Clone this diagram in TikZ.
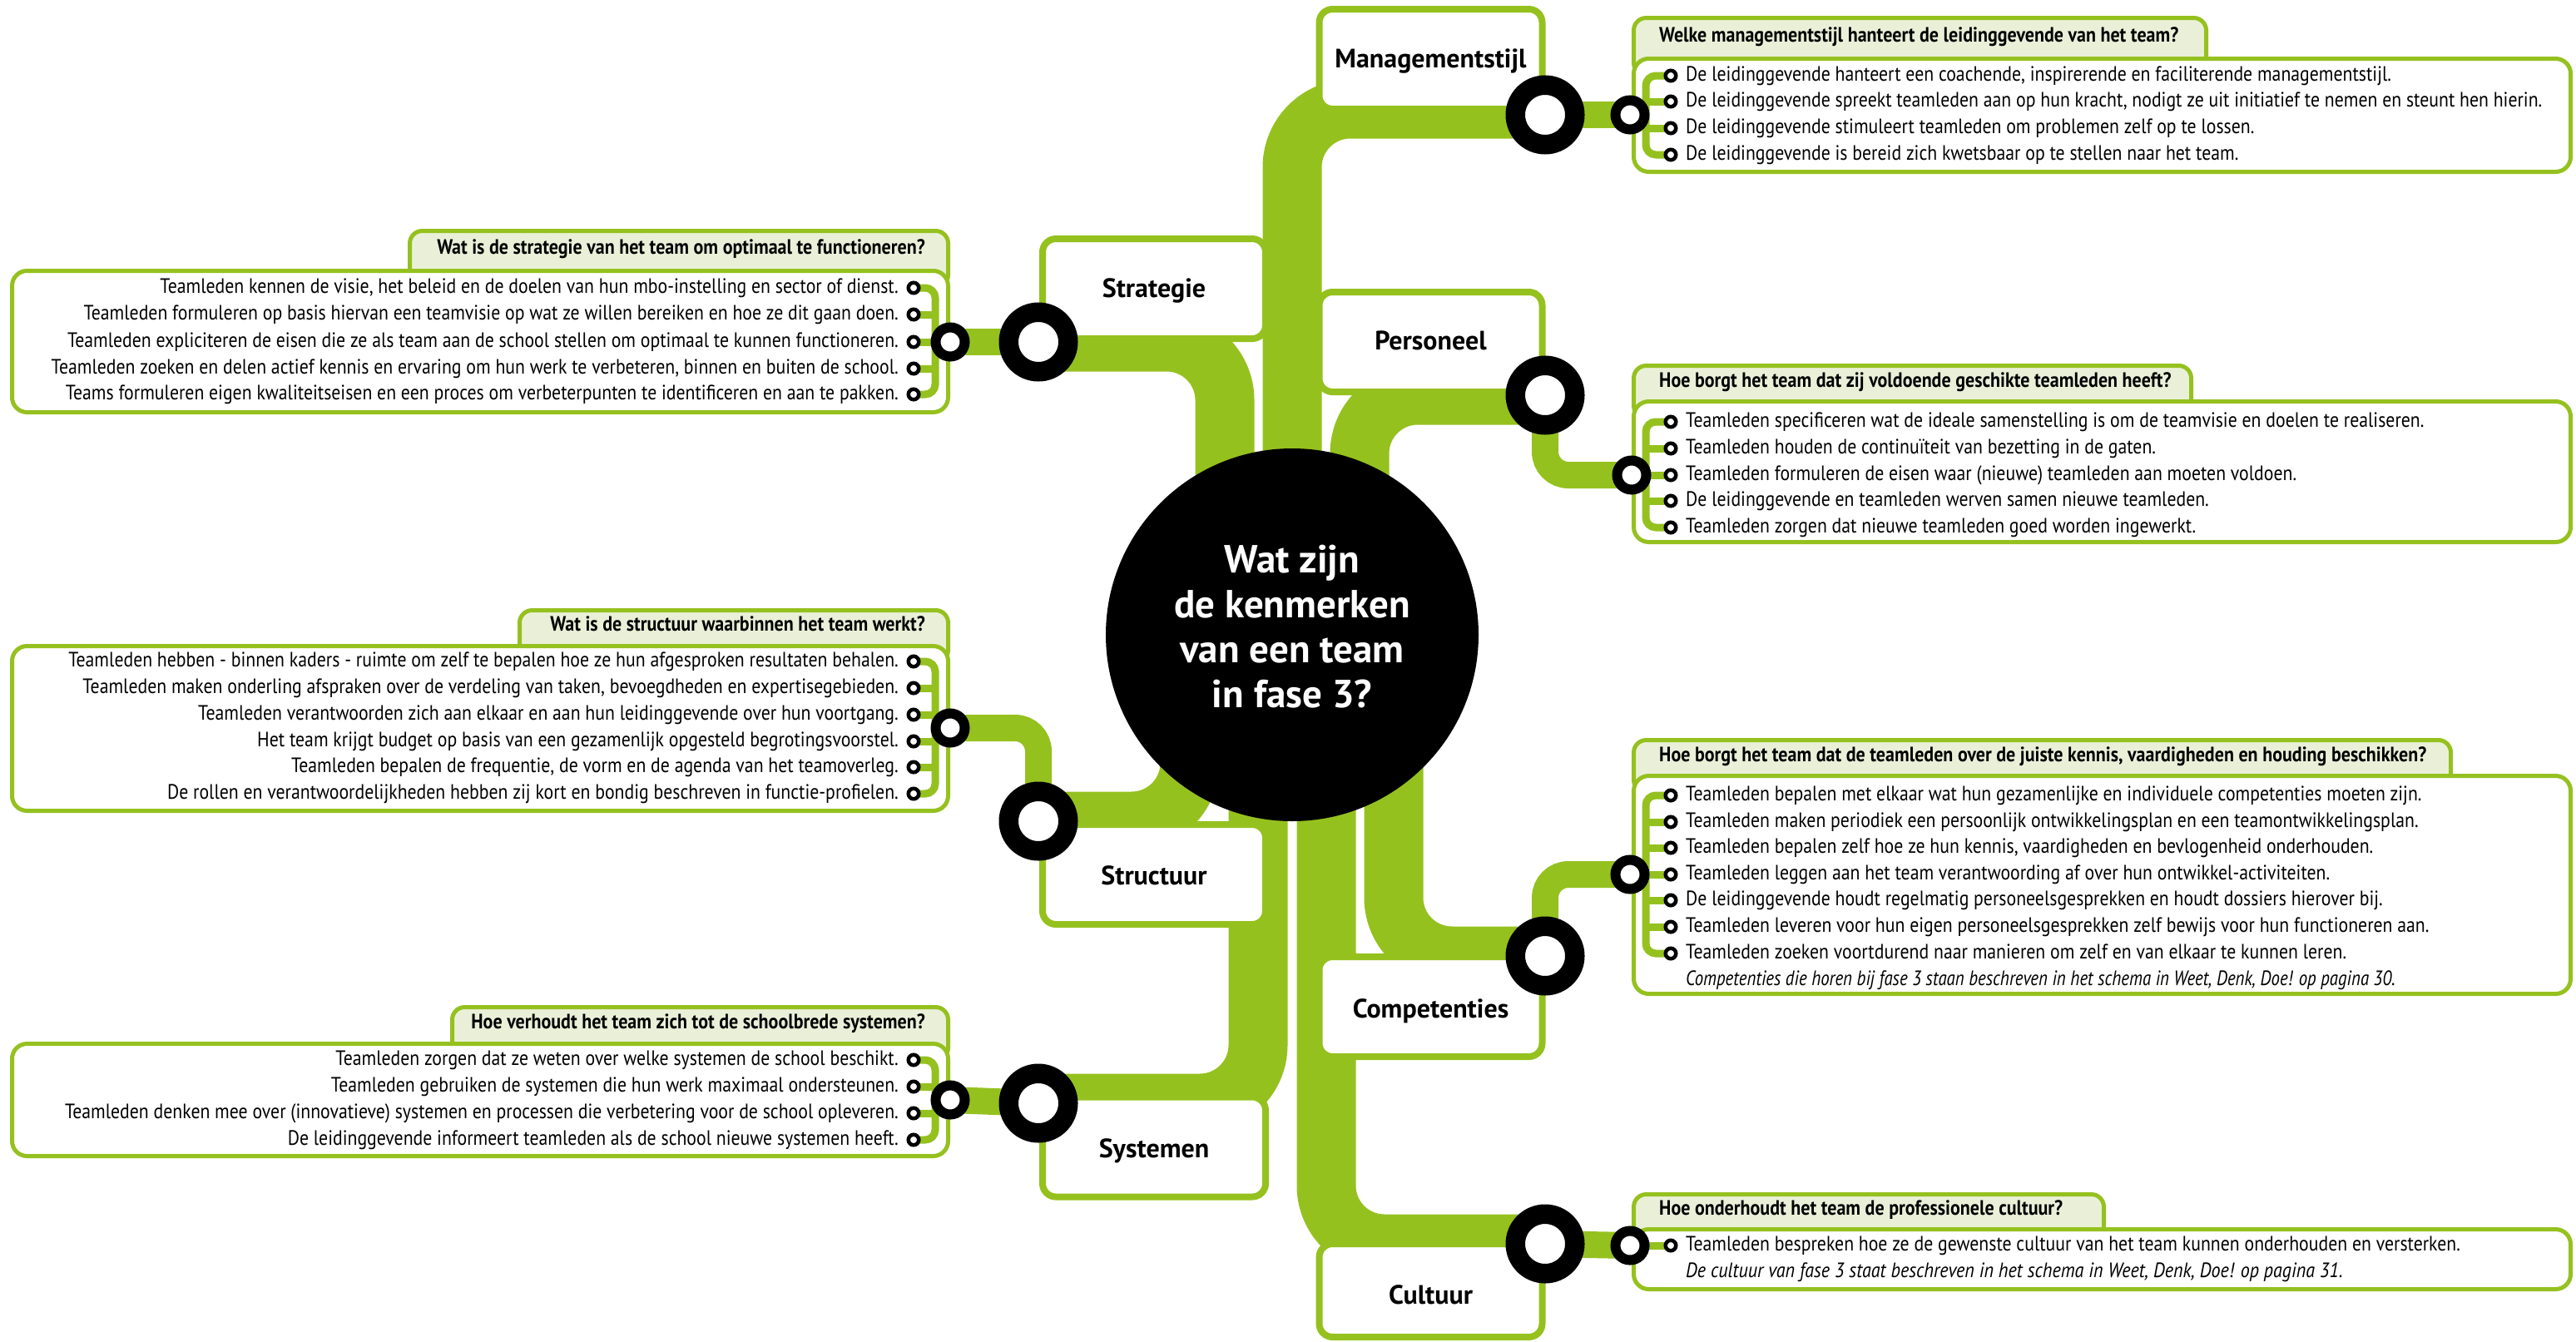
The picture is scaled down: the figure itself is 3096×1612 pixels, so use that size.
\documentclass[tikz,border=0pt]{standalone}
\usepackage{fontspec}
\setmainfont{PT Sans}
\newfontfamily\condfont{PT Sans}[FakeStretch=0.87]
\newfontfamily\notefont{PT Sans}[FakeStretch=0.835]
\newfontfamily\widenotefont{PT Sans}[FakeStretch=0.885]
\newfontfamily\headfont{PT Sans}[FakeStretch=0.88]
\newfontfamily\labelfont{PT Sans}
\newfontfamily\hubfont{PT Sans}

\definecolor{tgreen}{RGB}{149,193,31}
\definecolor{hgreen}{RGB}{234,240,216}

\pgfdeclarelayer{tracks}
\pgfdeclarelayer{hublayer}
\pgfdeclarelayer{boxes}
\pgfdeclarelayer{links}
\pgfsetlayers{tracks,hublayer,boxes,links,main}

\tikzset{
  track/.style={draw=tgreen, line width=71pt, rounded corners=70pt},
  link/.style={draw=tgreen, line width=32pt, rounded corners=28pt},
  comb/.style={draw=tgreen, line width=9pt, rounded corners=12pt},
  branchbox/.style={draw=tgreen, fill=white, line width=8pt, rounded corners=16pt,
    minimum width=268pt, minimum height=120pt, inner sep=0pt, text depth=7pt,
    font=\labelfont\bfseries\fontsize{32}{38}\selectfont},
  qmain/.style={draw=tgreen, fill=white, line width=5pt, rounded corners=18pt, inner sep=0pt},
  qhead/.style={draw=tgreen, fill=hgreen, line width=5pt, rounded corners=15pt, inner sep=0pt},
  bigring/.style={circle, draw=black, fill=white, line width=23.5pt, minimum size=71.5pt, inner sep=0pt},
  smallring/.style={circle, draw=black, fill=white, line width=12pt, minimum size=35pt, inner sep=0pt},
  bul/.style={circle, draw=black, fill=white, line width=4.5pt, minimum size=12.5pt, inner sep=0pt},
  itemtext/.style={inner sep=0pt, font=\condfont\fontsize{25}{30}\selectfont, text height=18pt, text depth=6pt},
  itemR/.style={itemtext, anchor=west},
  itemL/.style={itemtext, anchor=east},
  noteR/.style={itemR, font=\notefont\itshape\fontsize{25}{30}\selectfont},
  headtext/.style={inner sep=0pt, font=\headfont\bfseries\fontsize{25}{30}\selectfont, text height=18pt, text depth=6pt},
  headR/.style={headtext, anchor=west},
  headL/.style={headtext, anchor=east},
}

\begin{document}
\begin{tikzpicture}[x=1pt,y=-1pt]
\useasboundingbox (0,0) rectangle (3096,1612);

% ---------- stations on the branches ----------
\node[bigring] (sMan) at (1857,138) {};
\node[bigring] (sStr) at (1248,411) {};
\node[bigring] (sPer) at (1857,475) {};
\node[bigring] (sStc) at (1248,987) {};
\node[bigring] (sCom) at (1857,1149) {};
\node[bigring] (sSys) at (1248,1326) {};
\node[bigring] (sCul) at (1857,1495) {};

% ---------- small rings on the question boxes ----------
\node[smallring] (rMan) at (1959,138) {};
\node[smallring] (rStr) at (1142,411) {};
\node[smallring] (rPer) at (1961,571) {};
\node[smallring] (rStc) at (1142,875) {};
\node[smallring] (rCom) at (1959,1051) {};
\node[smallring] (rSys) at (1142,1322) {};
\node[smallring] (rCul) at (1959,1497) {};

% ---------- central question ----------
\begin{pgfonlayer}{hublayer}
\node[circle, fill=black, minimum size=448pt, inner sep=0pt] (hub) at (1553,763) {};
\node[text=white, align=center, inner sep=0pt,
      font=\hubfont\bfseries\fontsize{47}{54}\selectfont] (hubtext) at (1553,753)
      {Wat zijn\\de kenmerken\\van een team\\in fase 3?};
\end{pgfonlayer}

% track ends inside the central circle
\coordinate (jMan) at (1553,763);
\coordinate (jStr) at (1472,763);
\coordinate (jPer) at (1634,763);
\coordinate (jStc) at (1430,763);
\coordinate (jCom) at (1675,763);
\coordinate (jSys) at (1512,763);
\coordinate (jCul) at (1594,763);

\begin{pgfonlayer}{tracks}
\draw[track] ([yshift=7pt]sMan.center) -| (jMan);
\draw[track] (sStr.center) -| (jStr);
\draw[track] (sPer.center) -| (jPer);
\draw[track] (sStc.center) -| (jStc);
\draw[track] (sCom.center) -| (jCom);
\draw[track] (sSys.center) -| (jSys);
\draw[track] (sCul.center) -| (jCul);
\end{pgfonlayer}

% ---------- branch boxes and question boxes ----------
\begin{pgfonlayer}{boxes}
\node[branchbox, text height=27pt] (bxMan) at (1719.5,71) {Managementstijl};
\node[branchbox, text height=27pt] (bxStr) at (1387,347) {Strategie};
\node[branchbox, text height=25pt] (bxPer) at (1719.5,411) {Personeel};
\node[branchbox, text height=31pt] (bxStc) at (1387,1051) {Structuur};
\node[branchbox, text height=33pt] (bxCom) at (1719.5,1210) {Competenties};
\node[branchbox, text height=32pt] (bxSys) at (1387,1378.5) {Systemen};
\node[branchbox, text height=39pt, minimum height=112pt] (bxCul) at (1719.5,1551) {Cultuur};

\node[qhead, minimum width=688pt, minimum height=69pt] (hMan) at (2307.5,56) {};
\node[qhead, minimum width=670pt, minimum height=63pt] (hPer) at (2298.5,471) {};
\node[qhead, minimum width=982pt, minimum height=63pt] (hCom) at (2454.5,921) {};
\node[qhead, minimum width=565pt, minimum height=62pt] (hCul) at (2246,1466.5) {};
\node[qhead, minimum width=647pt, minimum height=68pt] (hStr) at (816,311.5) {};
\node[qhead, minimum width=515pt, minimum height=63pt] (hStc) at (882,765) {};
\node[qhead, minimum width=596pt, minimum height=64pt] (hSys) at (841.5,1242.5) {};

\node[qmain, minimum width=1126pt, minimum height=136pt] (qMan) at (2526.5,138.5) {};
\node[qmain, minimum width=1126pt, minimum height=169pt] (qPer) at (2526.5,567) {};
\node[qmain, minimum width=1126pt, minimum height=262pt] (qCom) at (2526.5,1063.5) {};
\node[qmain, minimum width=1126pt, minimum height=72pt] (qCul) at (2526.5,1513.5) {};
\node[qmain, minimum width=1125pt, minimum height=170pt] (qStr) at (577,410.5) {};
\node[qmain, minimum width=1125pt, minimum height=198pt] (qStc) at (577,875.5) {};
\node[qmain, minimum width=1125pt, minimum height=135pt] (qSys) at (577,1322) {};
\end{pgfonlayer}

% ---------- question headings ----------
\node[headR] (tMan) at (1994,44) {Welke managementstijl hanteert de leidinggevende van het team?};
\node[headR] (tPer) at (1994,459) {Hoe borgt het team dat zij voldoende geschikte teamleden heeft?};
\node[headR] (tCom) at (1994,909) {Hoe borgt het team dat de teamleden over de juiste kennis, vaardigheden en houding beschikken?};
\node[headR] (tCul) at (1994,1454) {Hoe onderhoudt het team de professionele cultuur?};
\node[headL] (tStr) at (1112,299) {Wat is de strategie van het team om optimaal te functioneren?};
\node[headL] (tStc) at (1112,752) {Wat is de structuur waarbinnen het team werkt?};
\node[headL] (tSys) at (1112,1230) {Hoe verhoudt het team zich tot de schoolbrede systemen?};

% ---------- Managementstijl items ----------
\node[bul] (bMan1) at (2008,91) {};
\node[bul] (bMan2) at (2008,122) {};
\node[bul] (bMan3) at (2008,154) {};
\node[bul] (bMan4) at (2008,186) {};
\node[itemR] (iMan1) at (2026,91) {De leidinggevende hanteert een coachende, inspirerende en faciliterende managementstijl.};
\node[itemR] (iMan2) at (2026,122) {De leidinggevende spreekt teamleden aan op hun kracht, nodigt ze uit initiatief te nemen en steunt hen hierin.};
\node[itemR] (iMan3) at (2026,154) {De leidinggevende stimuleert teamleden om problemen zelf op te lossen.};
\node[itemR] (iMan4) at (2026,186) {De leidinggevende is bereid zich kwetsbaar op te stellen naar het team.};

% ---------- Personeel items ----------
\node[bul] (bPer1) at (2008,507) {};
\node[bul] (bPer2) at (2008,539) {};
\node[bul] (bPer3) at (2008,571) {};
\node[bul] (bPer4) at (2008,602) {};
\node[bul] (bPer5) at (2008,634) {};
\node[itemR] (iPer1) at (2026,507) {Teamleden specificeren wat de ideale samenstelling is om de teamvisie en doelen te realiseren.};
\node[itemR] (iPer2) at (2026,539) {Teamleden houden de continuïteit van bezetting in de gaten.};
\node[itemR] (iPer3) at (2026,571) {Teamleden formuleren de eisen waar (nieuwe) teamleden aan moeten voldoen.};
\node[itemR] (iPer4) at (2026,602) {De leidinggevende en teamleden werven samen nieuwe teamleden.};
\node[itemR] (iPer5) at (2026,634) {Teamleden zorgen dat nieuwe teamleden goed worden ingewerkt.};

% ---------- Competenties items ----------
\node[bul] (bCom1) at (2008,956) {};
\node[bul] (bCom2) at (2008,988) {};
\node[bul] (bCom3) at (2008,1019) {};
\node[bul] (bCom4) at (2008,1051) {};
\node[bul] (bCom5) at (2008,1082) {};
\node[bul] (bCom6) at (2008,1114) {};
\node[bul] (bCom7) at (2008,1146) {};
\node[itemR] (iCom1) at (2026,956) {Teamleden bepalen met elkaar wat hun gezamenlijke en individuele competenties moeten zijn.};
\node[itemR] (iCom2) at (2026,988) {Teamleden maken periodiek een persoonlijk ontwikkelingsplan en een teamontwikkelingsplan.};
\node[itemR] (iCom3) at (2026,1019) {Teamleden bepalen zelf hoe ze hun kennis, vaardigheden en bevlogenheid onderhouden.};
\node[itemR] (iCom4) at (2026,1051) {Teamleden leggen aan het team verantwoording af over hun ontwikkel-activiteiten.};
\node[itemR] (iCom5) at (2026,1082) {De leidinggevende houdt regelmatig personeelsgesprekken en houdt dossiers hierover bij.};
\node[itemR] (iCom6) at (2026,1114) {Teamleden leveren voor hun eigen personeelsgesprekken zelf bewijs voor hun functioneren aan.};
\node[itemR] (iCom7) at (2026,1146) {Teamleden zoeken voortdurend naar manieren om zelf en van elkaar te kunnen leren.};
\node[noteR] (nCom) at (2026,1178) {Competenties die horen bij fase 3 staan beschreven in het schema in Weet, Denk, Doe! op pagina 30.};

% ---------- Cultuur items ----------
\node[bul] (bCul1) at (2008,1497) {};
\node[itemR] (iCul1) at (2026,1497) {Teamleden bespreken hoe ze de gewenste cultuur van het team kunnen onderhouden en versterken.};
\node[noteR, font=\widenotefont\itshape\fontsize{25}{30}\selectfont] (nCul) at (2026,1529) {De cultuur van fase 3 staat beschreven in het schema in Weet, Denk, Doe! op pagina 31.};

% ---------- Strategie items ----------
\node[bul] (bStr1) at (1098,346) {};
\node[bul] (bStr2) at (1098,378) {};
\node[bul] (bStr3) at (1098,411) {};
\node[bul] (bStr4) at (1098,443) {};
\node[bul] (bStr5) at (1098,474) {};
\node[itemL] (iStr1) at (1080,346) {Teamleden kennen de visie, het beleid en de doelen van hun mbo-instelling en sector of dienst.};
\node[itemL] (iStr2) at (1080,378) {Teamleden formuleren op basis hiervan een teamvisie op wat ze willen bereiken en hoe ze dit gaan doen.};
\node[itemL] (iStr3) at (1080,411) {Teamleden expliciteren de eisen die ze als team aan de school stellen om optimaal te kunnen functioneren.};
\node[itemL] (iStr4) at (1080,443) {Teamleden zoeken en delen actief kennis en ervaring om hun werk te verbeteren, binnen en buiten de school.};
\node[itemL] (iStr5) at (1080,474) {Teams formuleren eigen kwaliteitseisen en een proces om verbeterpunten te identificeren en aan te pakken.};

% ---------- Structuur items ----------
\node[bul] (bStc1) at (1098,795) {};
\node[bul] (bStc2) at (1098,827) {};
\node[bul] (bStc3) at (1098,859) {};
\node[bul] (bStc4) at (1098,891) {};
\node[bul] (bStc5) at (1098,922) {};
\node[bul] (bStc6) at (1098,954) {};
\node[itemL] (iStc1) at (1080,795) {Teamleden hebben - binnen kaders - ruimte om zelf te bepalen hoe ze hun afgesproken resultaten behalen.};
\node[itemL] (iStc2) at (1080,827) {Teamleden maken onderling afspraken over de verdeling van taken, bevoegdheden en expertisegebieden.};
\node[itemL] (iStc3) at (1080,859) {Teamleden verantwoorden zich aan elkaar en aan hun leidinggevende over hun voortgang.};
\node[itemL] (iStc4) at (1080,891) {Het team krijgt budget op basis van een gezamenlijk opgesteld begrotingsvoorstel.};
\node[itemL] (iStc5) at (1080,922) {Teamleden bepalen de frequentie, de vorm en de agenda van het teamoverleg.};
\node[itemL] (iStc6) at (1080,954) {De rollen en verantwoordelijkheden hebben zij kort en bondig beschreven in functie-profielen.};

% ---------- Systemen items ----------
\node[bul] (bSys1) at (1098,1274) {};
\node[bul] (bSys2) at (1098,1306) {};
\node[bul] (bSys3) at (1098,1338) {};
\node[bul] (bSys4) at (1098,1370) {};
\node[itemL] (iSys1) at (1080,1274) {Teamleden zorgen dat ze weten over welke systemen de school beschikt.};
\node[itemL] (iSys2) at (1080,1306) {Teamleden gebruiken de systemen die hun werk maximaal ondersteunen.};
\node[itemL] (iSys3) at (1080,1338) {Teamleden denken mee over (innovatieve) systemen en processen die verbetering voor de school opleveren.};
\node[itemL] (iSys4) at (1080,1370) {De leidinggevende informeert teamleden als de school nieuwe systemen heeft.};

% ---------- links from stations to question boxes, and the item combs ----------
\begin{pgfonlayer}{links}
\draw[link] (sMan.center) -- (rMan.center);
\draw[link] (sPer.center) |- (rPer.center);
\draw[link] (sCom.center) |- (rCom.center);
\draw[link] (sCul.center) -- (rCul.center);
\draw[link] (sStr.center) -- (rStr.center);
\draw[link] (sStc.center) |- (rStc.center);
\draw[link] (sSys.center) -- (rSys.center);

\draw[comb] (bMan1.center) -- ++(-30,0) |- (bMan4.center);
\foreach \k in {2,3} \draw[comb] (bMan\k.center) -- ++(-30,0);
\draw[comb] (bPer1.center) -- ++(-30,0) |- (bPer5.center);
\foreach \k in {2,3,4} \draw[comb] (bPer\k.center) -- ++(-30,0);
\draw[comb] (bCom1.center) -- ++(-30,0) |- (bCom7.center);
\foreach \k in {2,...,6} \draw[comb] (bCom\k.center) -- ++(-30,0);
\draw[comb] (rCul.center) -- (bCul1.center);
\draw[comb] (bStr1.center) -- ++(26,0) |- (bStr5.center);
\foreach \k in {2,3,4} \draw[comb] (bStr\k.center) -- ++(26,0);
\draw[comb] (bStc1.center) -- ++(26,0) |- (bStc6.center);
\foreach \k in {2,...,5} \draw[comb] (bStc\k.center) -- ++(26,0);
\draw[comb] (bSys1.center) -- ++(26,0) |- (bSys4.center);
\foreach \k in {2,3} \draw[comb] (bSys\k.center) -- ++(26,0);
\end{pgfonlayer}
\end{tikzpicture}
\end{document}
